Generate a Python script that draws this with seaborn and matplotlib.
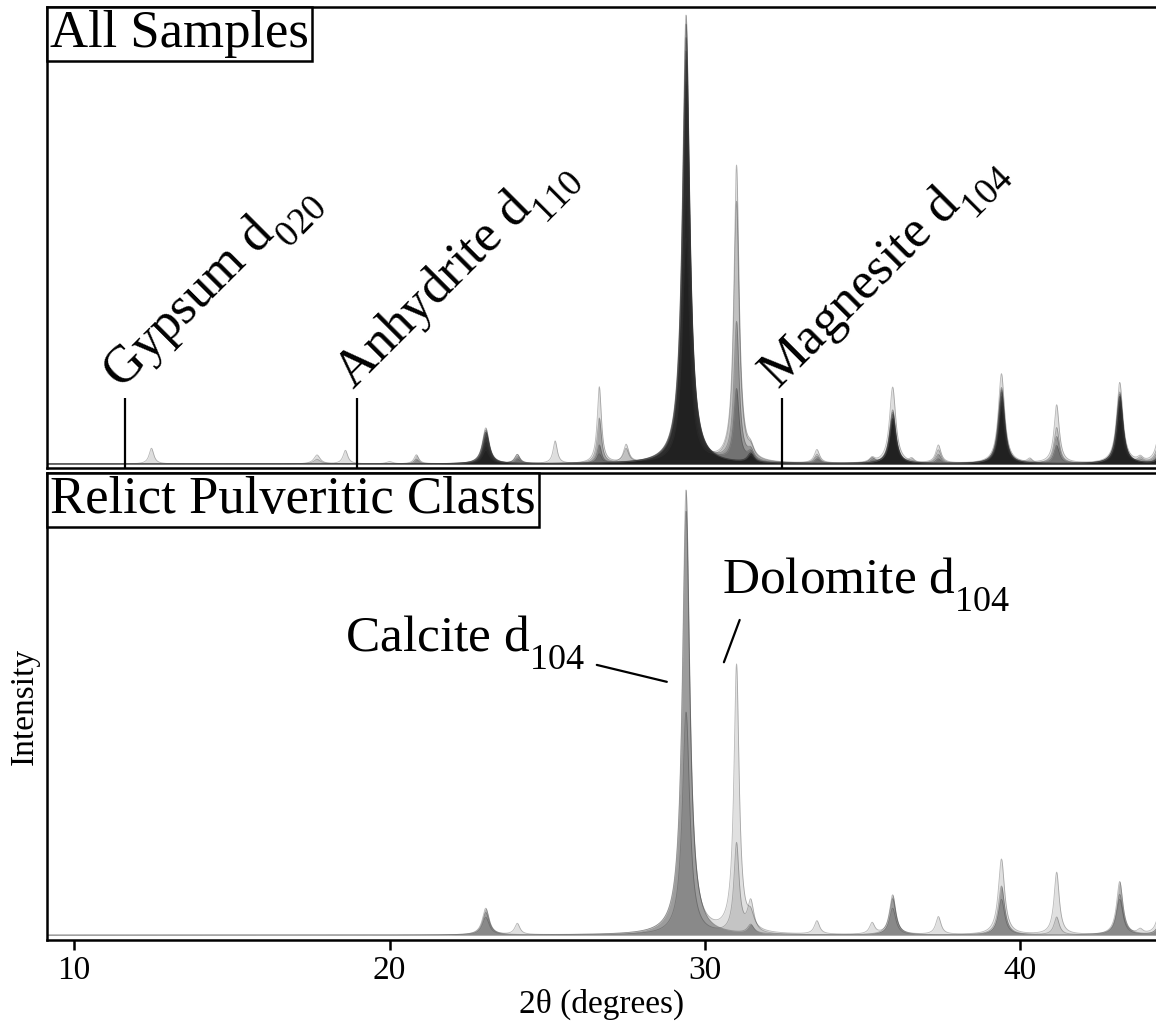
import numpy as np
import pandas as pd
import seaborn as sns
import matplotlib
matplotlib.use("Agg")
import matplotlib.pyplot as plt
import matplotlib._mathtext as mtext

# peak positions (2theta, degrees) and half widths
peak_pos = [12.45, 17.7, 18.6, 20.0, 20.85, 23.05, 24.05, 25.25, 26.65, 27.5, 28.0,
            29.4, 31.0, 31.45, 33.55, 35.3, 35.95, 36.55, 37.4, 39.4, 40.3, 41.15,
            43.15, 43.8, 44.45]
peak_hw = [0.09, 0.12, 0.09, 0.12, 0.09, 0.13, 0.1, 0.08, 0.08, 0.1, 0.1,
           0.14, 0.1, 0.12, 0.1, 0.1, 0.12, 0.1, 0.1, 0.12, 0.1, 0.1,
           0.12, 0.1, 0.12]

# relative peak heights per sample, "All Samples" panel
all_s1 = [0, 0, 0, 0, 0, .075, 0, 0, 0, 0, 0, 1.0, 0, .02, 0, 0, .12, 0, 0, .165, 0, 0, .16, 0, .02]
all_s2 = [0, 0, 0, 0, .01, .07, 0, 0, .04, 0, 0, .98, 0, .02, 0, 0, .11, 0, 0, .16, 0, 0, .15, 0, .02]
all_s3 = [0, 0, 0, 0, 0, .08, 0, 0, 0, 0, 0, .95, 0, .015, 0, 0, .115, 0, 0, .15, 0, 0, .155, 0, .02]
all_s4 = [0, 0, 0, 0, 0, .06, .01, 0, 0, 0, 0, .9, .16, .02, .01, .005, .1, 0, .01, .14, 0, .04, .14, 0, .03]
all_s5 = [0, 0, 0, 0, 0, .05, .015, 0, 0, 0, 0, .85, .31, .02, .015, .01, .09, 0, .02, .13, 0, .06, .13, .005, .05]
all_s6 = [0, 0, 0, 0, .02, .07, 0, 0, .1, 0, 0, .92, 0, .02, 0, 0, .1, .01, 0, .17, .01, 0, .15, 0, .02]
all_s7 = [.035, .01, .03, .005, 0, .04, .02, .05, .02, .04, 0, .6, .66, .02, .03, .01, .17, 0, .04, .2, 0, .13, .18, .01, .1]
all_s8 = [0, .02, 0, 0, 0, .03, .02, 0, .17, .03, 0, .5, .58, .02, .02, .01, .1, 0, .03, .12, 0, .08, .1, .01, .07]
all_samples = [all_s1, all_s2, all_s3, all_s4, all_s5, all_s6, all_s7, all_s8]
all_alpha = [0.26, 0.26, 0.26, 0.24, 0.22, 0.26, 0.13, 0.13]

# "Relict Pulveritic Clasts" panel
rpc_s1 = [0, 0, 0, 0, 0, .06, 0, 0, 0, 0, 0, 1.0, 0, .02, 0, 0, .09, 0, 0, .11, 0, 0, .12, 0, .03]
rpc_s2 = [0, 0, 0, 0, 0, .05, .025, 0, 0, 0, 0, .95, .6, .03, .03, .025, .08, 0, .04, .17, 0, .14, .09, .01, .07]
rpc_s3 = [0, 0, 0, 0, 0, .04, 0, 0, 0, 0, 0, .5, .2, .07, 0, 0, .06, 0, 0, .08, 0, .04, .08, 0, .03]
rpc_samples = [rpc_s1, rpc_s2, rpc_s3]
rpc_alpha = [0.3, 0.12, 0.12]

two_theta = np.linspace(9.0, 45.5, 7300)


def pattern(heights):
    y = np.zeros_like(two_theta)
    for p, w, h in zip(peak_pos, peak_hw, heights):
        y += h / (1 + ((two_theta - p) / w) ** 2)
    return y


sns.set_theme(style="ticks")
plt.rcParams['font.family'] = ['Liberation Serif', 'DejaVu Serif']
plt.rcParams['mathtext.fontset'] = 'custom'
plt.rcParams['mathtext.rm'] = 'Liberation Serif'
plt.rcParams['mathtext.it'] = 'Liberation Serif:italic'
plt.rcParams['mathtext.bf'] = 'Liberation Serif:bold'
plt.rcParams['text.color'] = 'black'
plt.rcParams['axes.labelcolor'] = 'black'
plt.rcParams['xtick.color'] = 'black'
# drop subscripts a bit lower, like the original typesetting
try:
    mtext.FontConstantsBase.sub1 = 0.8
except Exception:
    pass

fig = plt.figure(figsize=(11.56, 10.23), dpi=100)
ax1 = fig.add_axes([0.0407, 0.5425, 0.9593, 0.4507])
ax2 = fig.add_axes([0.0407, 0.0811, 0.9593, 0.4565])


def draw(ax, samples, alphas):
    frames = []
    for i, (h, a) in enumerate(zip(samples, alphas)):
        y = pattern(h)
        ax.fill_between(two_theta, 0, y, color='black', alpha=a, lw=0)
        frames.append(pd.DataFrame({'two_theta': two_theta, 'intensity': y, 'sample': i}))
    df = pd.concat(frames)
    sns.lineplot(data=df, x='two_theta', y='intensity', units='sample', estimator=None,
                 color='0.2', linewidth=0.6, alpha=0.35, ax=ax, legend=False)


draw(ax1, all_samples, all_alpha)
draw(ax2, rpc_samples, rpc_alpha)

for ax in (ax1, ax2):
    ax.set_xlim(9.14, 44.3)
    ax.set_yticks([])
    ax.set_ylabel('')
    ax.set_xlabel('')
    ax.spines['right'].set_visible(False)
    for s in ('left', 'top', 'bottom'):
        ax.spines[s].set_linewidth(1.8)
        ax.spines[s].set_color('black')

ax1.set_ylim(-0.009, 1.018)
ax2.set_ylim(-0.011, 1.038)
ax1.set_xticks([])
ax2.set_xticks([10, 20, 30, 40])
ax2.tick_params(axis='x', direction='out', length=7, width=1.8, labelsize=24, color='black',
                labelcolor='black', pad=4)
ax2.set_xlabel('2θ (degrees)', fontsize=24, labelpad=2)
ax2.set_ylabel('Intensity', fontsize=24, labelpad=5)

box = dict(boxstyle='square,pad=0.06', fc='white', ec='black', lw=1.8)
for ax, title in ((ax1, 'All Samples'), (ax2, 'Relict Pulveritic Clasts')):
    ax.annotate(title, xy=(0, 1), xycoords='axes fraction', xytext=(2.3, -2.3),
                textcoords='offset points', ha='left', va='top', fontsize=38, bbox=box,
                zorder=10)

# marker lines and rotated phase labels
markers = [(11.6, r'Gypsum d$_{020}$'), (18.96, r'Anhydrite d$_{110}$'), (32.45, r'Magnesite d$_{104}$')]
for x, lab in markers:
    ax1.plot([x, x], [-0.009, 0.147], color='black', lw=1.6, solid_capstyle='butt')
    ax1.text(x - 0.12, 0.165, lab, rotation=45, rotation_mode='anchor', ha='left',
             va='baseline', fontsize=38)

ax2.text(18.6, 0.64, r'Calcite d$_{104}$', fontsize=37, ha='left', va='baseline')
ax2.plot([26.57, 28.79], [0.607, 0.569], color='black', lw=1.6)
ax2.text(30.53, 0.77, r'Dolomite d$_{104}$', fontsize=37, ha='left', va='baseline')
ax2.plot([31.1, 30.6], [0.708, 0.613], color='black', lw=1.6)

fig.savefig('out.png', dpi=100)
